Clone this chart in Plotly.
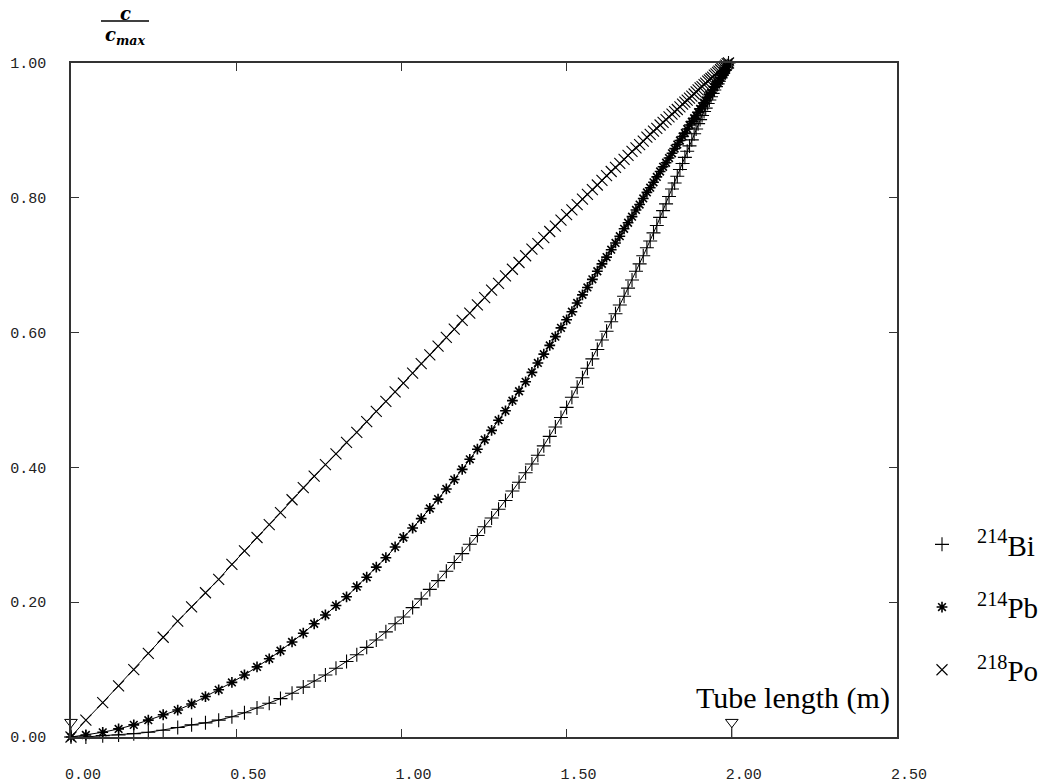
import plotly.graph_objects as go

# Tube position (m) of each computed point (shared by the three series)
x_pos = [0.000, 0.045, 0.096, 0.144, 0.190, 0.234, 0.279, 0.323, 0.365, 0.407,
         0.447, 0.487, 0.525, 0.563, 0.600, 0.634, 0.669, 0.703, 0.736, 0.770,
         0.802, 0.834, 0.865, 0.895, 0.924, 0.953, 0.981,
         1.006, 1.034, 1.060, 1.086, 1.111, 1.136, 1.160, 1.184, 1.207, 1.230,
         1.252, 1.273, 1.294, 1.315, 1.336, 1.356, 1.376, 1.395, 1.413, 1.431,
         1.449, 1.466, 1.483, 1.500, 1.516, 1.532, 1.548, 1.563, 1.578, 1.593,
         1.607, 1.621, 1.635, 1.648, 1.661, 1.674, 1.686, 1.698, 1.710, 1.721,
         1.732, 1.743, 1.753, 1.763, 1.773, 1.783, 1.792, 1.801, 1.810, 1.819,
         1.827, 1.835, 1.843, 1.851, 1.858, 1.865, 1.872, 1.879, 1.886, 1.892,
         1.898, 1.904, 1.910, 1.916, 1.921, 1.927, 1.932, 1.937, 1.942, 1.947,
         1.952, 1.957, 1.961, 1.966, 1.970, 1.974, 1.978, 1.982, 1.986, 1.990]

bi_214 = [0.000, 0.000, 0.002, 0.003, 0.005, 0.007, 0.010, 0.014, 0.018, 0.021,
          0.025, 0.030, 0.036, 0.043, 0.050, 0.057, 0.065, 0.074, 0.083, 0.092,
          0.102, 0.112, 0.122, 0.133, 0.144, 0.156, 0.168,
          0.178, 0.192, 0.205, 0.219, 0.232, 0.246, 0.259, 0.272, 0.286, 0.299,
          0.312, 0.325, 0.338, 0.351, 0.365, 0.378, 0.392, 0.405, 0.418, 0.432,
          0.446, 0.460, 0.474, 0.489, 0.504, 0.519, 0.533, 0.547, 0.561, 0.575,
          0.589, 0.602, 0.616, 0.628, 0.641, 0.654, 0.666, 0.678, 0.691, 0.702,
          0.714, 0.726, 0.736, 0.748, 0.759, 0.771, 0.781, 0.791, 0.802, 0.813,
          0.822, 0.832, 0.842, 0.851, 0.860, 0.869, 0.877, 0.886, 0.895, 0.902,
          0.910, 0.916, 0.922, 0.928, 0.933, 0.940, 0.945, 0.950, 0.955, 0.960,
          0.965, 0.969, 0.973, 0.978, 0.982, 0.985, 0.989, 0.993, 0.996, 1.000]

pb_214 = [0.000, 0.003, 0.007, 0.012, 0.018, 0.025, 0.033, 0.040, 0.049, 0.060,
          0.070, 0.081, 0.092, 0.104, 0.116, 0.128, 0.141, 0.154, 0.168, 0.181,
          0.195, 0.208, 0.223, 0.237, 0.252, 0.266, 0.282,
          0.296, 0.310, 0.324, 0.339, 0.353, 0.368, 0.382, 0.397, 0.412, 0.427,
          0.441, 0.455, 0.470, 0.484, 0.499, 0.513, 0.527, 0.541, 0.555, 0.568,
          0.581, 0.594, 0.607, 0.619, 0.631, 0.644, 0.656, 0.667, 0.679, 0.691,
          0.702, 0.712, 0.723, 0.733, 0.743, 0.754, 0.763, 0.772, 0.782, 0.790,
          0.799, 0.808, 0.815, 0.823, 0.831, 0.839, 0.846, 0.852, 0.859, 0.866,
          0.873, 0.879, 0.885, 0.891, 0.896, 0.902, 0.908, 0.913, 0.918, 0.922,
          0.927, 0.932, 0.936, 0.941, 0.944, 0.949, 0.953, 0.956, 0.960, 0.964,
          0.968, 0.971, 0.974, 0.978, 0.981, 0.984, 0.987, 0.990, 0.994, 0.998]

po_218 = [0.000, 0.025, 0.051, 0.076, 0.100, 0.124, 0.148, 0.172, 0.193, 0.214,
          0.234, 0.256, 0.276, 0.296, 0.315, 0.333, 0.352, 0.370, 0.387, 0.404,
          0.420, 0.437, 0.452, 0.468, 0.483, 0.498, 0.512,
          0.525, 0.540, 0.554, 0.567, 0.580, 0.593, 0.605, 0.618, 0.629, 0.641,
          0.652, 0.663, 0.673, 0.684, 0.694, 0.704, 0.714, 0.724, 0.732, 0.741,
          0.750, 0.758, 0.767, 0.775, 0.782, 0.790, 0.798, 0.805, 0.812, 0.819,
          0.826, 0.833, 0.839, 0.845, 0.851, 0.857, 0.863, 0.869, 0.874, 0.879,
          0.884, 0.890, 0.894, 0.899, 0.903, 0.908, 0.912, 0.916, 0.920, 0.924,
          0.928, 0.931, 0.935, 0.939, 0.942, 0.945, 0.948, 0.951, 0.954, 0.957,
          0.960, 0.963, 0.965, 0.968, 0.970, 0.973, 0.975, 0.977, 0.979, 0.982,
          0.984, 0.986, 0.988, 0.990, 0.992, 0.994, 0.995, 0.997, 0.999, 1.000]

series_names = ["<sup>214</sup>Bi", "<sup>214</sup>Pb", "<sup>218</sup>Po"]
series_values = [bi_214, pb_214, po_218]
series_symbols = ["cross-thin", "asterisk", "x-thin"]
series_sizes = [10, 9, 11]
series_mlw = [1.1, 1.6, 1.1]

# Reference marks (triangles) at tube inlet and tube length
mark_x = [0.0, 2.0]
mark_y = [0.022, 0.022]

x_ticks = [0.0, 0.5, 1.0, 1.5, 2.0, 2.5]
y_ticks = [0.0, 0.2, 0.4, 0.6, 0.8, 1.0]

fig = go.Figure()

for name, vals, sym, sz, mlw in zip(series_names, series_values, series_symbols,
                                    series_sizes, series_mlw):
    fig.add_trace(go.Scatter(x=x_pos, y=vals, mode="lines",
                             line=dict(color="black", width=1),
                             showlegend=False, hoverinfo="skip"))
    fig.add_trace(go.Scatter(x=x_pos, y=vals, mode="markers", name=name,
                             legendgroup=name, cliponaxis=False,
                             marker=dict(symbol=sym, size=sz, color="black",
                                         line=dict(color="black", width=mlw))))

# stems of triangle marks
for mx, my in zip(mark_x, mark_y):
    fig.add_trace(go.Scatter(x=[mx, mx], y=[0, my - 0.007], mode="lines",
                             line=dict(color="black", width=1),
                             showlegend=False, hoverinfo="skip", cliponaxis=False))
fig.add_trace(go.Scatter(x=mark_x, y=mark_y, mode="markers", showlegend=False,
                         cliponaxis=False,
                         marker=dict(symbol="triangle-down-open", size=11,
                                     color="black", line=dict(width=1))))

L, T, R, B = 71, 63, 160, 47
W, H = 1057, 784
pw, ph = W - L - R, H - T - B

def px(x):
    return (x - L) / pw

def py(y):
    return (H - B - y) / ph

axis_common = dict(showgrid=False, zeroline=False, showline=True,
                   linecolor="#333", linewidth=1.5, mirror="ticks",
                   ticks="inside", ticklen=8, tickcolor="#333", tickwidth=1,
                   tickformat=".2f", automargin=False,
                   tickfont=dict(family="Liberation Mono", size=15, color="#222"))

fig.update_xaxes(range=[0, 2.5], tickvals=x_ticks, ticklabelstandoff=22,
                 ticklabelshift=12, **axis_common)
fig.update_yaxes(range=[0, 1], tickvals=y_ticks, ticklabelstandoff=20,
                 **axis_common)

serif = "Liberation Serif"
fig.add_annotation(x=px(892), y=py(698), xref="paper", yref="paper",
                   text="Tube length (m)", showarrow=False, xanchor="right",
                   yanchor="middle", font=dict(family=serif, size=30, color="black"))

# y-axis label c / c_max
frac_font = dict(family="DejaVu Serif", size=18, color="black")
fig.add_annotation(x=px(125), y=py(1), xref="paper", yref="paper",
                   text="<b><i>c</i></b>", showarrow=False, xanchor="center",
                   yanchor="top", font=frac_font)
fig.add_shape(type="line", xref="paper", yref="paper", x0=px(101), x1=px(149),
              y0=py(21), y1=py(21), line=dict(color="black", width=1.3))
fig.add_annotation(x=px(125), y=py(22), xref="paper", yref="paper",
                   text="<b><i>c<sub>max</sub></i></b>", showarrow=False,
                   xanchor="center", yanchor="top", font=frac_font)

fig.update_layout(
    template="none",
    width=W, height=H,
    margin=dict(l=L, r=R, t=T, b=B, autoexpand=False),
    paper_bgcolor="white", plot_bgcolor="white",
    showlegend=True,
    legend=dict(x=px(907), y=py(519), xanchor="left", yanchor="top",
                tracegroupgap=22, itemwidth=60,
                font=dict(family=serif, size=29, color="black"),
                bgcolor="rgba(0,0,0,0)", borderwidth=0),
)

fig.write_html("out.html", config={"displayModeBar": False},
               post_script="document.body.style.margin='0';document.body.style.padding='0';")
